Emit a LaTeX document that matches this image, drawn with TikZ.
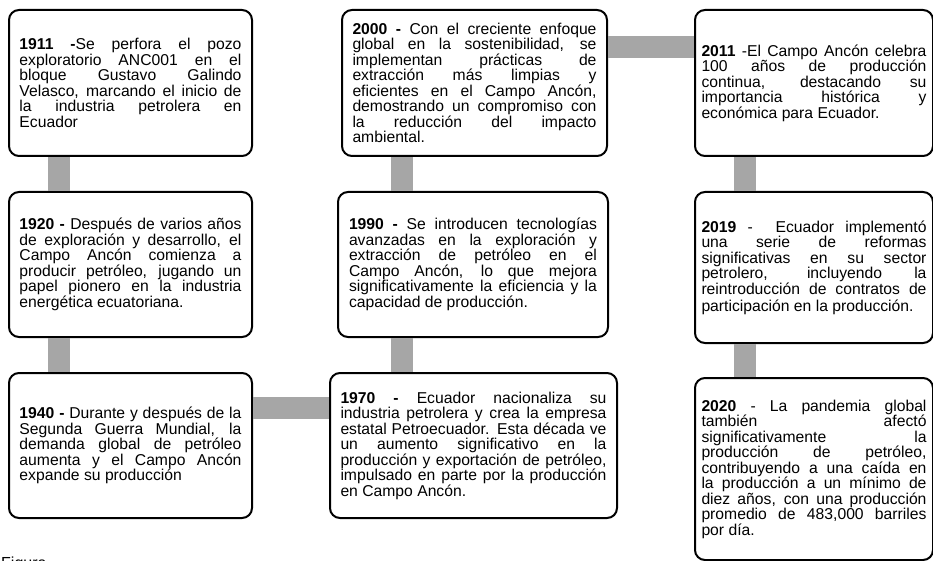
\documentclass[tikz,border=0pt]{standalone}
\usepackage{fontspec}
\setmainfont{Liberation Sans}
\definecolor{barragris}{HTML}{A6A6A6}
\newcommand{\jl}[1]{#1\linebreak}
\hbadness=10000
\tolerance=10000
\hyphenpenalty=10000

\begin{document}
\begin{tikzpicture}[x=1pt, y=-1pt,
    evento/.style={draw=black, fill=white, line width=2pt, rounded corners=10pt,
      inner sep=0pt, align=justify, font=\fontsize{15.7}{15.5}\selectfont},
    barra/.style={draw=barragris, line width=22pt}]
  \useasboundingbox (0,0) rectangle (933,561);
  \clip (0,0) rectangle (933,561);
  % columna izquierda
  \node[evento, minimum width=243pt, minimum height=146pt, text width=222pt] (e1911) at (130.5,83)
    {\jl{\textbf{1911 -}Se perfora el pozo}\jl{exploratorio ANC001 en el}\jl{bloque Gustavo Galindo}\jl{Velasco, marcando el inicio de}\jl{la industria petrolera en}Ecuador};
  \node[evento, minimum width=243pt, minimum height=145pt, text width=222pt] (e1920) at (130.5,264.5)
    {\jl{\textbf{1920 -} Después de varios años}\jl{de exploración y desarrollo, el}\jl{Campo Ancón comienza a}\jl{producir petróleo, jugando un}\jl{papel pionero en la industria}energética ecuatoriana.};
  \node[evento, minimum width=243pt, minimum height=145pt, text width=222pt] (e1940) at (130.5,445.5)
    {\jl{\textbf{1940 -} Durante y después de la}\jl{Segunda Guerra Mundial, la}\jl{demanda global de petróleo}\jl{aumenta y el Campo Ancón}expande su producción};
  % columna central
  \node[evento, minimum width=265pt, minimum height=146pt, text width=244pt] (e2000) at (474.5,83)
    {\jl{\textbf{2000 -} Con el creciente enfoque}\jl{global en la sostenibilidad, se}\jl{implementan prácticas de}\jl{extracción más limpias y}\jl{eficientes en el Campo Ancón,}\jl{demostrando un compromiso con}\jl{la reducción del impacto}ambiental.};
  \node[evento, minimum width=270pt, minimum height=145pt, text width=248pt] (e1990) at (473,264.5)
    {\jl{\textbf{1990 -} Se introducen tecnologías}\jl{avanzadas en la exploración y}\jl{extracción de petróleo en el}\jl{Campo Ancón, lo que mejora}\jl{significativamente la eficiencia y la}capacidad de producción.};
  \node[evento, minimum width=287pt, minimum height=145pt, text width=266pt] (e1970) at (473.5,445.5)
    {\jl{\textbf{1970 -} Ecuador nacionaliza su}\jl{industria petrolera y crea la empresa}\jl{estatal Petroecuador. Esta década ve}\jl{un aumento significativo en la}\jl{producción y exportación de petróleo,}\jl{impulsado en parte por la producción}en Campo Ancón.};
  % columna derecha
  \node[evento, minimum width=238pt, minimum height=146pt, text width=225pt] (e2011) at (814,83)
    {\jl{\textbf{2011} -El Campo Ancón celebra}\jl{100 años de producción}\jl{continua, destacando su}\jl{importancia histórica y}económica para Ecuador.};
  \node[evento, minimum width=238pt, minimum height=151pt, text width=225pt] (e2019) at (814,267.5)
    {\jl{\textbf{2019} - \ Ecuador implementó}\jl{una serie de reformas}\jl{significativas en su sector}\jl{petrolero, incluyendo la}\jl{reintroducción de contratos de}\rule{0pt}{16pt}participación en la producción.};
  \node[evento, minimum width=238pt, minimum height=182pt, text width=225pt] (e2020) at (814,469)
    {\jl{\textbf{2020} - La pandemia global}\jl{también afectó}\jl{significativamente la}\jl{producción de petróleo,}\jl{contribuyendo a una caída en}\jl{la producción a un mínimo de}\jl{diez años, con una producción}\jl{promedio de 483,000 barriles}por día.};
  \node[anchor=north west, inner sep=0pt, font=\fontsize{16}{16}\selectfont] (figura) at (1,557) {Figura};
  % barras grises
  \coordinate (xa) at (59,0);
  \coordinate (xb) at (402,0);
  \coordinate (xc) at (745,0);
  \coordinate (ya) at (0,408);
  \coordinate (yb) at (0,47);
  \draw[barra] (e1911.south -| xa) -- (e1920.north -| xa);
  \draw[barra] (e1920.south -| xa) -- (e1940.north -| xa);
  \draw[barra] (e1940.east |- ya) -- (e1970.west |- ya);
  \draw[barra] (e1970.north -| xb) -- (e1990.south -| xb);
  \draw[barra] (e1990.north -| xb) -- (e2000.south -| xb);
  \draw[barra] (e2000.east |- yb) -- (e2011.west |- yb);
  \draw[barra] (e2011.south -| xc) -- (e2019.north -| xc);
  \draw[barra] (e2019.south -| xc) -- (e2020.north -| xc);
\end{tikzpicture}
\end{document}
